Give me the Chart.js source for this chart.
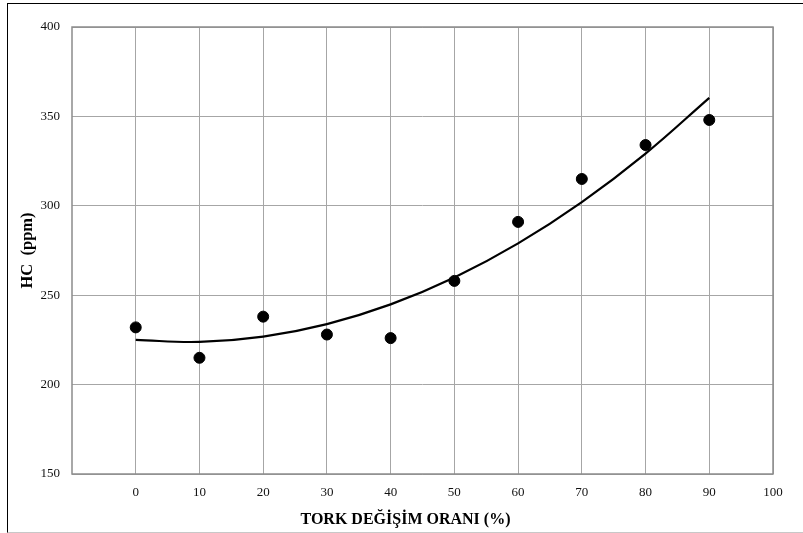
<!DOCTYPE html>
<html>
<head>
<meta charset="utf-8">
<script src="https://cdn.jsdelivr.net/npm/chart.js@4.4.1/dist/chart.umd.min.js"></script>
<style>
  html, body { margin: 0; padding: 0; background: #fff; }
  #wrap { position: relative; width: 803px; height: 533px; }
  #frame { position: absolute; left: 7px; top: 3px; width: 800px; height: 528px;
           border-left: 1.5px solid #000; border-top: 1.5px solid #000; border-bottom: 1px solid #c8c8c8; }
  canvas { position: absolute; left: 0; top: 0; }
</style>
</head>
<body>
<div id="wrap">
  <div id="frame"></div>
  <canvas id="c" width="803" height="533"></canvas>
</div>
<script>
// ---- data ----
const torkChange = [0, 10, 20, 30, 40, 50, 60, 70, 80, 90];        // x (%)
const hcPpm      = [232, 215, 238, 228, 226, 258, 291, 315, 334, 348]; // y (ppm)
const xTickLabels = [0, 10, 20, 30, 40, 50, 60, 70, 80, 90, 100];
const yTickLabels = [150, 200, 250, 300, 350, 400];
const xTitle = 'TORK DEĞİŞİM ORANI (%)';
const yTitle = 'HC  (ppm)';

// 2nd-order polynomial least-squares trendline fitted to the data
function polyFit2(xs, ys) {
  let n = xs.length, s = [0,0,0,0,0], t = [0,0,0];
  for (let i = 0; i < n; i++) {
    const x = xs[i], y = ys[i];
    let p = 1;
    for (let k = 0; k < 5; k++) { s[k] += p; if (k < 3) t[k] += p * y; p *= x; }
  }
  const A = [[s[0], s[1], s[2], t[0]], [s[1], s[2], s[3], t[1]], [s[2], s[3], s[4], t[2]]];
  for (let i = 0; i < 3; i++) {
    for (let j = i + 1; j < 3; j++) {
      const f = A[j][i] / A[i][i];
      for (let k = i; k < 4; k++) A[j][k] -= f * A[i][k];
    }
  }
  const c = [0,0,0];
  for (let i = 2; i >= 0; i--) {
    let v = A[i][3];
    for (let k = i + 1; k < 3; k++) v -= A[i][k] * c[k];
    c[i] = v / A[i][i];
  }
  return x => c[0] + c[1] * x + c[2] * x * x;
}
const trend = polyFit2(torkChange, hcPpm);
const trendPts = torkChange.map(x => ({x: x, y: trend(x)}));
const pts = torkChange.map((x, i) => ({x: x, y: hcPpm[i]}));

const serif = "'Liberation Serif', 'Times New Roman', serif";

const frameBorder = {
  id: 'frameBorder',
  beforeDatasetsDraw(chart) {
    const {ctx, chartArea: a} = chart;
    ctx.save();
    ctx.strokeStyle = '#8c8c8c';
    ctx.lineWidth = 1.5;
    ctx.strokeRect(a.left, a.top, a.right - a.left, a.bottom - a.top);
    ctx.restore();
  }
};

// x-axis title centred on the whole chart frame (as in the original)
const xTitlePlugin = {
  id: 'xTitlePlugin',
  afterDraw(chart) {
    const ctx = chart.ctx;
    ctx.save();
    ctx.fillStyle = '#000';
    ctx.font = 'bold 16px ' + serif;
    ctx.textAlign = 'center';
    ctx.textBaseline = 'middle';
    ctx.fillText(xTitle, (8 + chart.width) / 2, 520);
    ctx.restore();
  }
};

new Chart(document.getElementById('c'), {
  type: 'scatter',
  data: {
    datasets: [
      {
        type: 'line',
        data: trendPts,
        borderColor: '#000',
        borderWidth: 2.2,
        pointRadius: 0,
        fill: false,
        tension: 0.4,
        order: 2
      },
      {
        data: pts,
        backgroundColor: '#000',
        borderColor: '#000',
        pointRadius: 5.5,
        pointHoverRadius: 5.5,
        order: 1
      }
    ]
  },
  options: {
    responsive: false,
    animation: false,
    events: [],
    layout: { padding: { left: 9, top: 27, right: 30, bottom: 2 } },
    plugins: { legend: { display: false }, tooltip: { enabled: false } },
    scales: {
      x: {
        type: 'linear',
        min: -10, max: 100,
        afterBuildTicks(scale) { scale.ticks = xTickLabels.map(v => ({value: v})); },
        afterFit(scale) { scale.height = 57; },
        border: { display: false },
        grid: { color: '#a6a6a6', lineWidth: 1, drawTicks: false },
        ticks: { color: '#111', padding: 11, maxRotation: 0, font: { family: serif, size: 13 } },
        title: { display: false }
      },
      y: {
        type: 'linear',
        min: 150, max: 400,
        afterBuildTicks(scale) { scale.ticks = yTickLabels.map(v => ({value: v})); },
        afterFit(scale) { scale.width = 63; },
        border: { display: false },
        grid: { color: '#a6a6a6', lineWidth: 1, drawTicks: false },
        ticks: { color: '#111', padding: 12, font: { family: serif, size: 13 } },
        title: { display: true, text: yTitle, color: '#000', padding: { top: 9, bottom: 0 },
                 font: { family: serif, size: 16.5, weight: 'bold' } }
      }
    }
  },
  plugins: [frameBorder, xTitlePlugin]
});
</script>
</body>
</html>
